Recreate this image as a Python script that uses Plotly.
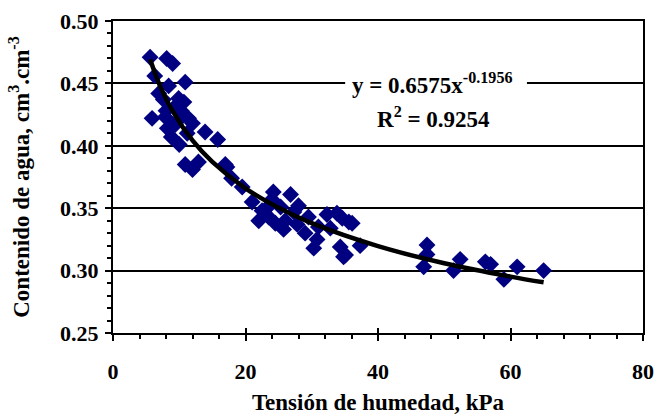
import plotly.graph_objects as go

# Measured points (Tensión de humedad kPa, contenido de agua cm3/cm3)
tension = [5.6, 8.1, 9.0, 6.3, 10.9, 8.4, 6.9, 7.6, 10.7, 9.3, 8.0, 5.9, 7.9, 11.4,
           9.6, 8.2, 9.4, 13.9, 15.8, 10.0, 9.9, 10.3, 12.0, 11.2, 8.8,
           10.9, 12.9, 12.0, 16.95,
           17.2, 17.9, 19.5, 21.0, 24.2, 26.8, 22.0, 24.5, 25.75, 23.2, 25.3, 27.3,
           29.5, 29.0, 30.3, 32.3, 33.8, 32.8, 34.3, 35.6, 34.8, 37.3, 24.0, 22.5,
           26.0, 28.0, 30.8, 31.0, 23.5, 27.8, 35.1, 36.1, 34.6,
           47.4, 47.4, 46.9, 52.4, 51.4, 56.2, 57.0, 59.0, 61.0, 65.0]
contenido = [0.471, 0.470, 0.466, 0.456, 0.451, 0.448, 0.442, 0.437, 0.435, 0.431, 0.428,
             0.422, 0.423, 0.422, 0.419, 0.414, 0.417, 0.411, 0.405, 0.401, 0.438, 0.428,
             0.418, 0.410, 0.407,
             0.385, 0.387, 0.381, 0.385,
             0.383, 0.374, 0.367, 0.355, 0.363, 0.361, 0.340, 0.338, 0.333, 0.350, 0.351,
             0.347, 0.343, 0.330, 0.318, 0.345, 0.346, 0.334, 0.319, 0.339, 0.311, 0.320,
             0.357, 0.348, 0.340, 0.352, 0.325, 0.335, 0.343, 0.337, 0.3125, 0.338, 0.342,
             0.3205, 0.313, 0.303, 0.309, 0.300, 0.307, 0.305, 0.293, 0.303, 0.300]

# Trend line
fit_x = [5.6, 7, 9, 12, 15, 20, 25, 30, 40, 50, 60, 65]
fit_y = [0.4694, 0.4493, 0.4278, 0.4043, 0.3871, 0.3659, 0.3503, 0.3380, 0.3196,
         0.3059, 0.2952, 0.2906]

x_ticks = [0, 20, 40, 60, 80]
y_ticks = [0.25, 0.30, 0.35, 0.40, 0.45, 0.50]

FONT = "Liberation Serif"
TF = dict(family=FONT, size=22, color="black", weight="bold")   # tick labels
HF = dict(family=FONT, size=23, color="black", weight="bold")   # axis titles
AF = dict(family=FONT, size=23, color="black", weight="bold")   # equation

fig = go.Figure()
fig.add_trace(go.Scatter(x=tension, y=contenido, mode="markers",
                         marker=dict(symbol="diamond", size=13, color="#000080",
                                     line=dict(width=0)),
                         showlegend=False))
fig.add_trace(go.Scatter(x=fit_x, y=fit_y, mode="lines",
                         line=dict(color="black", width=4.5, shape="spline"),
                         showlegend=False))
# helper trace for inner halves of major x ticks
fig.add_trace(go.Scatter(x=[None], y=[None], xaxis="x2", yaxis="y",
                         mode="markers", showlegend=False, hoverinfo="skip"))

fig.update_layout(
    width=655, height=415,
    margin=dict(l=113, r=12, t=21, b=82, autoexpand=False),
    paper_bgcolor="white", plot_bgcolor="white",
    font=TF,
    xaxis=dict(range=[0, 80], tickvals=x_ticks, ticks="outside", ticklen=6,
               tickwidth=2, tickcolor="black", showgrid=False, zeroline=False,
               showline=True, linecolor="black", linewidth=2, mirror=True,
               tickfont=TF, ticklabelstandoff=12, automargin=False,
               minor=dict(dtick=4, ticks="outside", ticklen=4, tickwidth=2,
                          tickcolor="black", showgrid=False),
               title=dict(text="Tensión de humedad, kPa", font=HF, standoff=10)),
    xaxis2=dict(range=[0, 80], overlaying="x", side="bottom", tickvals=x_ticks,
                ticks="inside", ticklen=5, tickwidth=2, tickcolor="black",
                showticklabels=False, showgrid=False, zeroline=False, showline=False,
                automargin=False),
    yaxis=dict(range=[0.25, 0.50], tickvals=y_ticks, tickformat=".2f",
               ticks="outside", ticklen=6, tickwidth=2, tickcolor="black",
               showgrid=True, gridcolor="black", gridwidth=2, zeroline=False,
               showline=True, linecolor="black", linewidth=2, mirror=True,
               tickfont=TF, ticklabelstandoff=2, automargin=False,
               minor=dict(dtick=0.01, ticks="outside", ticklen=4, tickwidth=2,
                          tickcolor="black", showgrid=False),
               title=dict(text="Contenido de agua, cm<sup>3</sup>.cm<sup>-3</sup>",
                          font=HF, standoff=24)),
)

fig.add_shape(type="rect", xref="paper", yref="paper", x0=0.438, x1=0.781,
              y0=0.613, y1=0.815, fillcolor="white", line=dict(width=0),
              layer="above")
fig.add_annotation(x=48.2, y=0.450, xref="x", yref="y", showarrow=False,
                   text="y = 0.6575x<sup>-0.1956</sup>", font=AF)
fig.add_annotation(x=48.4, y=0.423, xref="x", yref="y", showarrow=False,
                   text="R<sup>2</sup> = 0.9254", font=AF)

# remove the page's default body margin so the figure fills the window exactly
fig.write_html("out.html",
               config={"displayModeBar": False},
               post_script="document.body.style.margin='0';document.body.style.overflow='hidden';")
